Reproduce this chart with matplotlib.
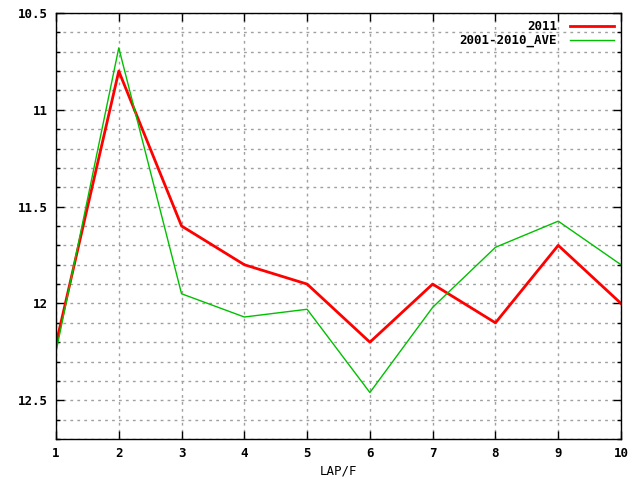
import numpy as np
import matplotlib.pyplot as plt
from matplotlib.ticker import MultipleLocator, FixedLocator

laps = [1, 2, 3, 4, 5, 6, 7, 8, 9, 10]
vals_2011 = [12.21, 10.80, 11.60, 11.80, 11.90, 12.20, 11.90, 12.10, 11.70, 12.00]
vals_ave = [12.25, 10.68, 11.95, 12.07, 12.03, 12.46, 12.02, 11.71, 11.575, 11.80]

plt.rcParams['font.family'] = 'DejaVu Sans Mono'
plt.rcParams['font.weight'] = 'bold'
plt.rcParams['font.size'] = 9

fig = plt.figure(figsize=(6.4, 4.8), dpi=100)
ax = fig.add_axes([56 / 640, 41 / 480, 565 / 640, 426 / 480])

ax.plot(laps, vals_2011, color='#ff0000', lw=2, label='2011')
ax.plot(laps, vals_ave, color='#00c000', lw=1, label='2001-2010_AVE')

ax.set_xlim(1, 10)
ax.set_ylim(12.7, 10.5)
ax.xaxis.set_major_locator(FixedLocator(laps))
ax.yaxis.set_major_locator(MultipleLocator(0.5))
ax.yaxis.set_minor_locator(MultipleLocator(0.1))
ax.yaxis.set_major_formatter(plt.FuncFormatter(lambda v, p: f'{v:g}'))

ax.grid(True, which='major', axis='x', color='#a0a0a0', ls=(0, (2, 3)), lw=1)
ax.grid(True, which='both', axis='y', color='#a0a0a0', ls=(0, (2, 3)), lw=1)
ax.set_axisbelow(True)

ax.tick_params(which='both', direction='in', top=True, right=True, width=1)
ax.tick_params(which='major', length=6, pad=6)
ax.tick_params(which='minor', length=3)
for s in ax.spines.values():
    s.set_linewidth(1)

ax.set_xlabel('LAP/F', labelpad=3)

leg = ax.legend(loc='upper right', frameon=False, markerfirst=False,
                handlelength=3.5, borderaxespad=0.2, labelspacing=0.05,
                handletextpad=1.0)
for t in leg.get_texts():
    t.set_ha('right')
leg._legend_box.align = 'right'

fig.savefig('out.png', dpi=100)
